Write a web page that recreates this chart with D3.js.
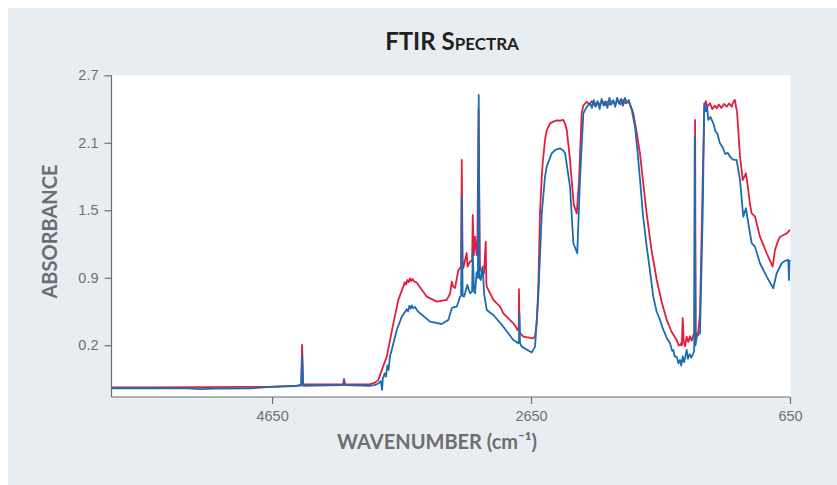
<!DOCTYPE html>
<html><head><meta charset="utf-8">
<script src="https://cdn.jsdelivr.net/npm/d3@7"></script>
<style>
html,body{margin:0;padding:0;background:#fff;}
svg{display:block;}
</style></head>
<body>
<svg id="chart" width="837" height="485"></svg>
<script>
// ---- data (wavenumber cm-1, absorbance) ----
const title = "FTIR Spectra";
const xLabel = "WAVENUMBER (cm⁻¹)";
const yLabel = "ABSORBANCE";
const xTickValues = [4650, 2650, 650];
const yTickValues = [0.3, 0.9, 1.5, 2.1, 2.7];
const yTickLabels = ["0.2", "0.9", "1.5", "2.1", "2.7"];

const redSeries = [
 [5890,-0.075],[5600,-0.074],[5200,-0.073],[4800,-0.070],[4690,-0.070],[4460,-0.058],[4425,-0.050],[4418,0.303],[4410,-0.050],
 [4400,-0.048],[4100,-0.045],[4094,0.000],[4088,-0.045],[3900,-0.048],[3860,-0.035],[3830,-0.010],[3793,0.110],[3764,0.199],
 [3713,0.495],[3675,0.703],[3636,0.821],[3625,0.860],[3615,0.840],[3605,0.880],[3595,0.860],[3585,0.895],[3575,0.870],[3565,0.890],
 [3550,0.865],[3535,0.860],[3520,0.836],[3455,0.732],[3378,0.688],
 [3301,0.703],[3275,0.760],[3262,0.865],[3250,0.820],[3237,0.809],[3211,0.969],[3190,1.000],[3185,1.947],[3178,0.990],[3173,0.987],
 [3147,1.120],[3140,1.000],[3121,1.043],[3105,1.050],[3100,1.458],[3092,1.100],[3082,1.265],[3070,1.100],[3065,1.120],[3055,2.400],
 [3045,1.000],[3038,0.980],[3031,0.950],[3013,0.940],[3000,1.221],[2995,0.850],[2992,0.821],[2941,0.703],[2889,0.643],[2864,0.584],
 [2787,0.495],[2760,0.450],[2756,0.436],[2745,0.440],[2743,0.798],[2738,0.420],[2735,0.407],[2709,0.376],[2632,0.362],[2619,0.380],
 [2606,0.500],[2594,0.800],[2581,1.470],[2567,1.800],[2560,1.918],[2542,2.125],[2529,2.210],[2503,2.273],[2478,2.288],[2450,2.300],
 [2426,2.296],[2401,2.303],[2387,2.270],[2374,2.214],[2349,1.950],[2336,1.769],[2320,1.550],[2297,1.473],[2279,1.769],[2259,2.362],
 [2246,2.430],[2220,2.465],[2200,2.440],[2180,2.470],[2160,2.430],[2140,2.460],[2120,2.440],[2100,2.475],[2080,2.435],[2060,2.465],
 [2040,2.440],[2020,2.470],[2000,2.445],[1980,2.475],[1960,2.440],[1940,2.480],[1920,2.450],[1900,2.465],[1880,2.430],[1860,2.362],
 [1835,2.200],[1808,2.000],[1785,1.760],[1757,1.470],[1720,1.150],[1679,0.880],[1640,0.680],[1602,0.525],[1565,0.420],[1525,0.347],
 [1510,0.300],[1499,0.300],[1490,0.320],[1485,0.300],[1479,0.540],[1470,0.330],[1460,0.290],[1448,0.376],[1435,0.330],[1422,0.380],
 [1410,0.340],[1397,0.390],[1388,0.400],[1383,2.303],[1378,0.380],[1358,0.420],[1345,0.584],[1324,1.769],[1312,2.421],[1300,2.470],
 [1290,2.420],[1268,2.451],[1250,2.400],[1230,2.430],[1216,2.407],[1200,2.440],[1180,2.410],[1160,2.445],[1139,2.421],[1120,2.450],
 [1100,2.420],[1085,2.470],[1075,2.480],[1058,2.362],[1036,1.976],[1015,1.769],[990,1.829],[972,1.680],[960,1.560],[946,1.473],
 [920,1.443],[882,1.265],[830,1.118],[784,0.999],[766,1.147],[745,1.220],[727,1.265],[700,1.280],[675,1.295],[650,1.325]
];

const blueSeries = [
 [5890,-0.082],[5600,-0.082],[5300,-0.083],[5200,-0.090],[5100,-0.085],[4800,-0.082],[4690,-0.073],[4460,-0.062],[4425,-0.058],
 [4418,0.205],[4410,-0.060],[4100,-0.055],[4094,-0.010],[4088,-0.055],[3900,-0.060],[3860,-0.055],[3830,-0.040],[3810,-0.020],
 [3800,-0.097],[3795,0.000],[3780,0.050],[3770,0.020],[3760,0.120],[3750,0.080],[3740,0.200],[3726,0.258],[3687,0.436],[3648,0.554],
 [3610,0.620],[3600,0.600],[3590,0.650],[3580,0.625],[3571,0.655],[3560,0.630],[3545,0.640],[3530,0.610],
 [3507,0.584],[3430,0.510],[3340,0.489],[3289,0.525],[3262,0.629],[3245,0.640],[3224,0.643],[3198,0.732],[3190,0.740],
 [3185,1.621],[3178,0.740],[3167,0.732],[3142,0.836],[3121,0.762],[3105,0.780],[3100,1.118],[3090,0.780],[3082,0.762],[3070,0.950],
 [3060,0.900],[3054,2.525],[3048,0.900],[3038,0.880],[3023,0.999],[3013,0.762],[2992,0.614],[2941,0.569],[2864,0.465],[2787,0.347],
 [2748,0.318],[2743,0.350],[2740,0.584],[2735,0.320],[2722,0.288],[2645,0.236],[2619,0.288],[2594,0.732],[2567,1.473],[2542,1.800],
 [2529,1.888],[2490,2.007],[2460,2.040],[2426,2.051],[2400,2.030],[2387,2.007],[2349,1.710],[2323,1.207],[2293,1.118],[2272,1.769],
 [2246,2.362],[2220,2.420],[2194,2.454],[2180,2.410],[2165,2.480],[2150,2.420],[2135,2.470],[2120,2.400],[2105,2.490],[2090,2.430],
 [2075,2.470],[2060,2.410],[2045,2.500],[2030,2.440],[2015,2.480],[2000,2.420],[1985,2.500],[1970,2.450],[1955,2.490],[1940,2.430],
 [1925,2.500],[1910,2.460],[1895,2.480],[1886,2.440],[1870,2.380],[1847,2.243],[1830,2.050],[1808,1.769],[1785,1.450],[1757,1.180],
 [1730,0.950],[1706,0.732],[1680,0.600],[1654,0.525],[1628,0.436],[1600,0.360],[1577,0.320],[1560,0.250],[1551,0.258],[1540,0.200],
 [1525,0.199],[1512,0.140],[1499,0.169],[1490,0.120],[1478,0.200],[1468,0.150],[1458,0.200],[1448,0.258],[1438,0.180],[1425,0.220],
 [1412,0.190],[1397,0.229],[1390,0.250],[1386,2.154],[1380,0.300],[1370,0.376],[1345,0.407],[1324,1.470],[1312,2.451],[1300,2.380],
 [1290,2.420],[1281,2.303],[1265,2.330],[1242,2.273],[1225,2.200],[1210,2.180],[1191,2.095],[1170,2.060],[1150,2.000],[1130,2.010],
 [1113,1.976],[1090,1.950],[1062,1.947],[1036,1.769],[1011,1.443],[990,1.518],[972,1.384],[946,1.207],[920,1.176],[882,1.029],
 [830,0.910],[779,0.807],[753,0.940],[714,1.029],[690,1.050],[663,1.058],[658,0.880],[655,1.040],[650,1.058]
];

// ---- layout ----
const svg = d3.select("#chart");
const W = 837, H = 485;
const plot = {left: 111.5, right: 790, top: 75.3, bottom: 397};
const ink = "#6d6e71";
const redColor = "#e11f3c";
const blueColor = "#1a6db2";

svg.append("rect").attr("x", 8).attr("y", 8).attr("width", W - 8).attr("height", H - 8).attr("fill", "#e8edf1");
svg.append("rect").attr("x", plot.left).attr("y", plot.top)
  .attr("width", plot.right - plot.left + 0.5).attr("height", plot.bottom - plot.top).attr("fill", "#ffffff");

const x = d3.scaleLinear().domain([5890, 650]).range([plot.left, plot.right]);
const y = d3.scaleLinear().domain([-0.16, 2.7]).range([plot.bottom, plot.top]);

svg.append("defs").append("clipPath").attr("id", "clip")
  .append("rect").attr("x", plot.left).attr("y", plot.top - 2)
  .attr("width", plot.right - plot.left + 1).attr("height", plot.bottom - plot.top + 2);

const line = d3.line().x(d => x(d[0])).y(d => y(d[1]));
const g = svg.append("g").attr("clip-path", "url(#clip)");
g.append("path").datum(redSeries).attr("d", line).attr("fill", "none")
  .attr("stroke", redColor).attr("stroke-width", 1.8).attr("stroke-linejoin", "round");
g.append("path").datum(blueSeries).attr("d", line).attr("fill", "none")
  .attr("stroke", blueColor).attr("stroke-width", 1.8).attr("stroke-linejoin", "round");

// axes
const tickFont = "'Liberation Sans', Arial, sans-serif";
const yAxis = svg.append("g").attr("transform", `translate(${plot.left},0)`)
  .call(d3.axisLeft(y).tickValues(yTickValues)
    .tickFormat((d, i) => yTickLabels[i]).tickSize(7).tickSizeOuter(0).tickPadding(6));
const xAxis = svg.append("g").attr("transform", `translate(0,${plot.bottom})`)
  .call(d3.axisBottom(x).tickValues(xTickValues).tickFormat(d3.format("d")).tickSize(7).tickSizeOuter(0).tickPadding(7));
[yAxis, xAxis].forEach(a => {
  a.select(".domain").attr("stroke", ink).attr("stroke-width", 1.2);
  a.selectAll(".tick line").attr("stroke", ink).attr("stroke-width", 1.2);
  a.selectAll(".tick text").attr("fill", "#707174").attr("font-size", 14.5)
    .attr("font-family", tickFont);
});
yAxis.select(".domain").attr("d", `M0,${plot.top}V${plot.bottom}`);
xAxis.select(".domain").attr("d", `M${plot.left},0H${plot.right}`);

// title
svg.append("text").attr("x", 452).attr("y", 50).attr("text-anchor", "middle")
  .attr("font-family", "Lato, 'Open Sans', sans-serif").attr("font-weight", 700)
  .attr("font-size", 24).attr("fill", "#231f20").style("font-variant", "small-caps")
  .text(title);

// axis labels
svg.append("text").attr("x", 437).attr("y", 449).attr("text-anchor", "middle")
  .attr("font-family", "Lato, 'Open Sans', sans-serif").attr("font-weight", 700)
  .attr("font-size", 20).attr("fill", ink).text(xLabel);

svg.append("text").attr("transform", "translate(56.5,231.5) rotate(-90)").attr("text-anchor", "middle")
  .attr("font-family", "Lato, 'Open Sans', sans-serif").attr("font-weight", 700)
  .attr("font-size", 20).attr("fill", ink).text(yLabel);
</script>
</body></html>
